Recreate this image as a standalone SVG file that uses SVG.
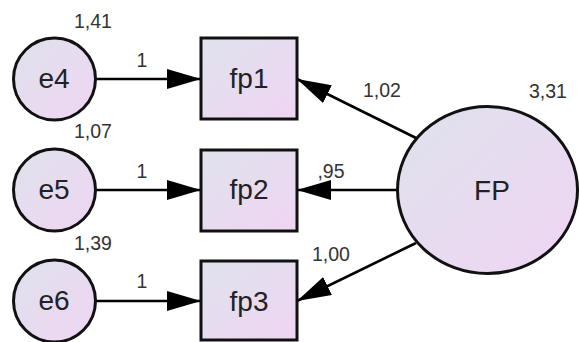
<svg xmlns="http://www.w3.org/2000/svg" width="579" height="342" viewBox="0 0 579 342">
<defs>
<linearGradient id="g" x1="0" y1="0" x2="1" y2="1">
<stop offset="0" stop-color="#dfe2ec"/>
<stop offset="1" stop-color="#efd5f3"/>
</linearGradient>
<marker id="ah" markerUnits="userSpaceOnUse" markerWidth="34" markerHeight="20" refX="34" refY="10" orient="auto" viewBox="0 0 34 20">
<path d="M0,0 L34,10 L0,20 Z" fill="#000"/>
</marker>
<style>
.n{fill:url(#g);stroke:#111;stroke-width:3}
.t{font-family:"Liberation Sans",Arial,sans-serif;font-size:28px;fill:#222;text-anchor:middle}
.v{font-family:"Liberation Sans",Arial,sans-serif;font-size:19.5px;fill:#333;text-anchor:middle}
.c{stroke:#000;stroke-width:2.6;fill:none;marker-end:url(#ah)}
</style>
</defs>
<rect width="579" height="342" fill="#fff"/>
<g id="connectors">
<line class="c" x1="96" y1="79" x2="201" y2="79"/>
<line class="c" x1="96" y1="190" x2="201" y2="190"/>
<line class="c" x1="96" y1="301" x2="201" y2="301"/>
<line class="c" x1="416" y1="138" x2="297" y2="79"/>
<line class="c" x1="397" y1="190" x2="297" y2="190"/>
<line class="c" x1="416" y1="243" x2="297" y2="301"/>
</g>
<g id="e4"><circle class="n" cx="54.5" cy="79" r="41"/><text class="t" x="54" y="88">e4</text></g>
<g id="e5"><circle class="n" cx="54.5" cy="190" r="41"/><text class="t" x="54" y="199">e5</text></g>
<g id="e6"><circle class="n" cx="54.5" cy="301" r="41"/><text class="t" x="54" y="310">e6</text></g>
<g id="fp1"><rect class="n" x="201" y="38" width="96" height="81"/><text class="t" x="249" y="88">fp1</text></g>
<g id="fp2"><rect class="n" x="201" y="150" width="96" height="81"/><text class="t" x="249" y="199">fp2</text></g>
<g id="fp3"><rect class="n" x="201" y="261" width="96" height="79"/><text class="t" x="249" y="311">fp3</text></g>
<g id="FP"><ellipse class="n" cx="487.5" cy="190" rx="90" ry="83.5"/><text class="t" x="492" y="200">FP</text></g>
<g id="labels">
<text class="v" x="93" y="28">1,41</text>
<text class="v" x="93" y="138">1,07</text>
<text class="v" x="93" y="250">1,39</text>
<text class="v" x="142" y="67">1</text>
<text class="v" x="142" y="178">1</text>
<text class="v" x="142" y="288">1</text>
<text class="v" x="382" y="97">1,02</text>
<text class="v" x="331" y="178">,95</text>
<text class="v" x="331" y="261">1,00</text>
<text class="v" x="548" y="98">3,31</text>
</g>
</svg>
